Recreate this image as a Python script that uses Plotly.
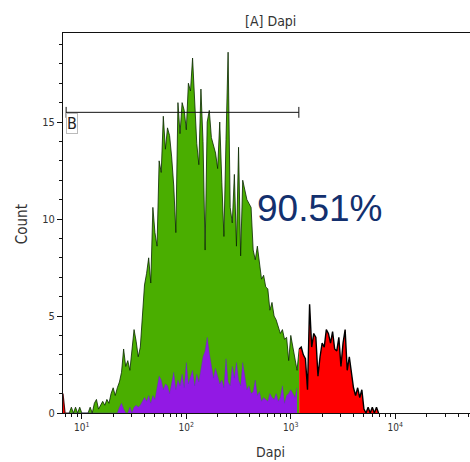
import numpy as np
import plotly.graph_objects as go

# Histogram bins: log-spaced channels, 50 per decade, starting at 10^0.82
BIN_LOG_START = 0.82
BIN_LOG_STEP = 0.02

# Event counts per bin, all events
TOTAL_COUNTS = [
    1.0, 0.0, 0.0, 0.0, 0.3, 0.0, 0.3, 0.0, 0.3, 0.0,
    0.0, 0.0, 0.0, 0.3, 0.0, 0.5, 0.7, 0.2, 0.4, 0.6,
    0.4, 0.7, 0.5, 1.0, 1.3, 0.9, 1.3, 1.6, 2.1, 3.3,
    2.4, 2.7, 2.2, 3.1, 4.3, 3.7, 2.9, 3.4, 5.2, 6.6,
    7.2, 8.0, 6.7, 10.6, 9.3, 8.6, 13.0, 12.4, 15.3, 13.6,
    14.7, 14.3, 13.2, 11.7, 9.3, 16.0, 14.4, 16.0, 15.6, 14.6,
    17.0, 16.6, 18.3, 16.3, 13.9, 12.8, 16.7, 14.0, 8.4, 15.0,
    15.6, 14.2, 13.8, 13.4, 12.6, 15.0, 11.9, 9.1, 14.1, 18.6,
    10.6, 9.8, 12.3, 8.6, 13.7, 8.1, 12.0, 11.4, 11.0, 10.8,
    10.6, 8.4, 7.9, 8.6, 7.7, 6.9, 7.1, 6.5, 6.4, 5.3,
    5.7, 5.0, 4.8, 4.5, 4.1, 4.3, 3.8, 3.9, 2.7, 4.0,
    3.4, 2.9, 2.2, 3.3, 3.4, 3.0, 2.8, 1.2, 5.6, 3.4,
    4.1, 3.9, 1.9, 2.9, 3.6, 3.4, 4.3, 4.1, 3.6, 4.2,
    3.3, 3.2, 3.9, 2.4, 3.6, 4.3, 2.2, 2.9, 2.0, 1.3,
    0.9, 1.3, 0.8, 1.2, 0.2, 0.0, 0.3, 0.0, 0.3, 0.0,
    0.3, 0.0,
]

# Event counts per bin, sub-population (same bins)
SUBSET_COUNTS = [
    0.0, 0.0, 0.0, 0.0, 0.0, 0.0, 0.0, 0.0, 0.0, 0.0,
    0.0, 0.0, 0.0, 0.0, 0.0, 0.0, 0.0, 0.0, 0.0, 0.0,
    0.0, 0.0, 0.0, 0.0, 0.0, 0.0, 0.0, 0.3, 0.5, 0.2,
    0.0, 0.0, 0.3, 0.0, 0.3, 0.4, 0.3, 0.4, 0.6, 0.8,
    0.6, 0.9, 0.5, 0.9, 0.7, 1.4, 1.9, 1.7, 1.2, 1.5,
    1.4, 1.0, 1.6, 2.1, 1.2, 1.7, 1.4, 2.0, 1.3, 2.6,
    1.5, 1.8, 2.2, 1.4, 2.0, 1.6, 2.3, 2.9, 3.2, 3.9,
    3.1, 2.4, 1.8, 2.3, 1.9, 1.5, 1.7, 1.3, 2.8, 1.6,
    1.4, 2.4, 1.8, 2.6, 1.7, 1.4, 2.6, 1.9, 1.2, 1.4,
    1.0, 1.1, 1.7, 0.9, 1.1, 0.6, 0.8, 0.7, 0.6, 1.0,
    0.8, 0.7, 1.0, 0.6, 0.8, 1.4, 0.5, 0.9, 1.0, 1.2,
    1.0, 0.8, 1.3, 0.0, 0.0, 0.0, 0.0, 0.0, 0.0, 0.0,
    0.0, 0.0, 0.0, 0.0, 0.0, 0.0, 0.0, 0.0, 0.0, 0.0,
    0.0, 0.0, 0.0, 0.0, 0.0, 0.0, 0.0, 0.0, 0.0, 0.0,
    0.0, 0.0, 0.0, 0.0, 0.0, 0.0, 0.0, 0.0, 0.0, 0.0,
    0.0, 0.0,
]

# Marker gate "B"
GATE_NAME = "B"
GATE_LOW = 7.08
GATE_HIGH = 1194.0
GATE_LEVEL = 15.5
GATE_PERCENT = "90.51%"

TITLE = "[A] Dapi"
X_TITLE = "Dapi"
Y_TITLE = "Count"
X_TICKS = [10, 100, 1000, 10000]
X_TICK_TEXT = ["10<sup>1</sup>", "10<sup>2</sup>", "10<sup>3</sup>", "10<sup>4</sup>"]
Y_TICKS = [0, 5, 10, 15]

GREEN = "#4aae00"
RED = "#ff0000"
PURPLE = "#9219e4"
NAVY = "#13306e"
FONT = "DejaVu Sans Condensed, Liberation Sans Narrow, Lato, sans-serif"

total = np.array(TOTAL_COUNTS)
subset = np.array(SUBSET_COUNTS)
x = 10 ** (BIN_LOG_START + BIN_LOG_STEP * np.arange(len(total)))

inside = np.where((x >= GATE_LOW) & (x <= GATE_HIGH))[0]
first_in, last_in = inside.min(), inside.max()

fig = go.Figure()

def area(xs, ys, fill, line_color, line_width):
    fig.add_trace(go.Scatter(
        x=xs, y=ys, mode="lines", fill="tozeroy", fillcolor=fill,
        line=dict(color=line_color, width=line_width),
        hoverinfo="skip", showlegend=False,
    ))

# events below the gate
area(x[:first_in + 1], total[:first_in + 1], RED, "rgba(60,0,0,0.9)", 1.2)
# events inside the gate
area(x[first_in:last_in + 2], total[first_in:last_in + 2], GREEN,
     "rgba(10,40,0,0.8)", 1)
# events above the gate
area(x[last_in + 1:], total[last_in + 1:], RED, "#000000", 1.4)
# sub-population overlay
area(x[first_in:last_in + 1], subset[first_in:last_in + 1], PURPLE,
     "rgba(90,40,200,0.6)", 0.6)

# gate bar with end caps
cap = 0.28
fig.add_trace(go.Scatter(
    x=[GATE_LOW, GATE_HIGH, None, GATE_LOW, GATE_LOW, None, GATE_HIGH, GATE_HIGH],
    y=[GATE_LEVEL, GATE_LEVEL, None, GATE_LEVEL - cap, GATE_LEVEL + cap, None,
       GATE_LEVEL - cap, GATE_LEVEL + cap],
    mode="lines", line=dict(color="#111111", width=1),
    hoverinfo="skip", showlegend=False,
))

minor_vals = [m * 10 ** d for d in range(0, 5) for m in range(2, 10)]

fig.update_layout(
    width=470, height=462,
    margin=dict(l=63, r=0, t=33, b=49),
    paper_bgcolor="white", plot_bgcolor="white",
    font=dict(family=FONT, color="#333333", size=11),
    xaxis=dict(
        type="log", range=[0.82, 4.715],
        showgrid=False, zeroline=False,
        showline=True, linecolor="#111111", linewidth=1, mirror=True,
        ticks="outside", ticklen=5, tickcolor="#111111",
        tickvals=X_TICKS, ticktext=X_TICK_TEXT,
        tickfont=dict(family=FONT, size=10, color="#333333"),
        minor=dict(tickvals=minor_vals, ticks="outside", ticklen=3,
                   tickcolor="#111111", showgrid=False),
    ),
    yaxis=dict(
        range=[0, 19.59],
        showgrid=False, zeroline=False,
        showline=True, linecolor="#111111", linewidth=1,
        ticks="outside", ticklen=5, tickcolor="#111111",
        tickvals=Y_TICKS,
        tickfont=dict(family=FONT, size=11, color="#333333"),
        minor=dict(dtick=1, ticks="outside", ticklen=3,
                   tickcolor="#111111", showgrid=False),
    ),
    annotations=[
        dict(text=TITLE, xref="paper", yref="paper", x=0.511, y=1.0316,
             xanchor="center", yanchor="middle", showarrow=False,
             font=dict(family=FONT, size=14, color="#333333")),
        dict(text=X_TITLE, xref="paper", yref="paper", x=0.511, y=-0.1026,
             xanchor="center", yanchor="middle", showarrow=False,
             font=dict(family=FONT, size=14, color="#333333")),
        dict(text=Y_TITLE, xref="paper", yref="paper", x=-0.1007, y=0.497,
             xanchor="center", yanchor="middle", showarrow=False, textangle=-90,
             font=dict(family=FONT, size=15, color="#333333")),
        dict(text=GATE_PERCENT, xref="paper", yref="paper", x=0.4717, y=0.539,
             xanchor="left", yanchor="middle", showarrow=False,
             font=dict(family="Liberation Sans, Arial, sans-serif", size=37,
                       color=NAVY)),
        dict(text=GATE_NAME, x=np.log10(GATE_LOW), y=GATE_LEVEL - 0.05,
             xref="x", yref="y", xanchor="left", yanchor="top", showarrow=False,
             bordercolor="#bbbbbb", borderwidth=1, borderpad=0, bgcolor="white",
             font=dict(family=FONT, size=16, color="#222222")),
    ],
)

fig.write_html("out.html")
